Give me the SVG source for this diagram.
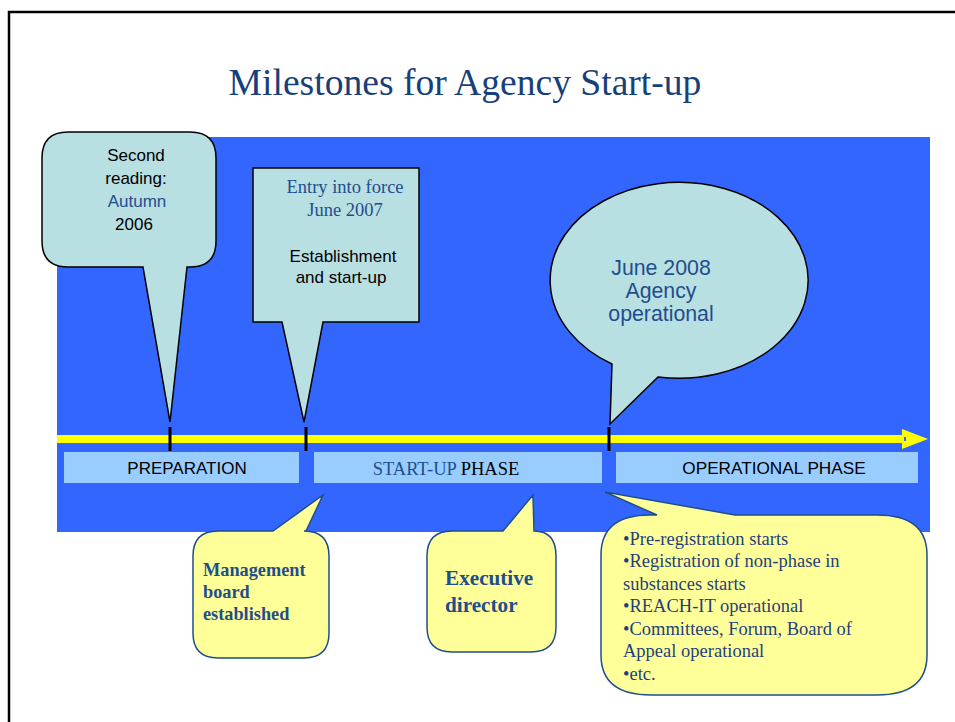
<svg xmlns="http://www.w3.org/2000/svg" width="955" height="722" viewBox="0 0 955 722">
<style>
.sans{font-family:"Liberation Sans",Arial,sans-serif}
.serif{font-family:"Liberation Serif","Times New Roman",serif}
.cyan{fill:#B8DFE2;stroke:#000;stroke-width:1.5;stroke-linejoin:miter}
.yel{fill:#FFFF99;stroke:#1F4E8C;stroke-width:1.5}
.phase{fill:#99CCFF}
.tick{stroke:#000;stroke-width:3}
</style>
<rect x="0" y="0" width="955" height="722" fill="#fff"/>
<path d="M9 722 V12 H955" fill="none" stroke="#000" stroke-width="2.5"/>
<text x="465" y="95" text-anchor="middle" class="serif" font-size="37.6" fill="#17407A">Milestones for Agency Start-up</text>
<rect id="background" x="57" y="137" width="873" height="395" fill="#3366FF"/>
<g id="connectors">
<rect x="57" y="435" width="847" height="8" fill="#FFFF00"/>
<polygon points="902,429 928,439 902,449" fill="#FFFF00"/>
<rect x="904" y="437" width="2" height="4" fill="#3366FF"/>
<line class="tick" x1="170" y1="427" x2="170" y2="451"/>
<line class="tick" x1="306" y1="427" x2="306" y2="451"/>
<line class="tick" x1="609" y1="427" x2="609" y2="451"/>
</g>
<g id="phase-preparation">
<rect class="phase" x="64" y="452" width="235" height="31"/>
<text x="187" y="474" text-anchor="middle" class="sans" font-size="17" fill="#000">PREPARATION</text>
</g>
<g id="phase-startup">
<rect class="phase" x="314" y="452" width="288" height="31"/>
<text x="446" y="475" text-anchor="middle" class="serif" font-size="18.5"><tspan fill="#1F4E8C">START-UP</tspan><tspan fill="#000"> PHASE</tspan></text>
</g>
<g id="phase-operational">
<rect class="phase" x="616" y="452" width="302" height="31"/>
<text x="774" y="474" text-anchor="middle" class="sans" font-size="17.2" fill="#000">OPERATIONAL PHASE</text>
</g>
<g id="second-reading">
<path class="cyan" d="M68 132 H190 Q216 132 216 158 V241 Q216 267 190 267 H187 L170 422 L143 267 H68 Q42 267 42 241 V158 Q42 132 68 132 Z"/>
<text text-anchor="middle" class="sans" font-size="17"><tspan x="136" y="161" fill="#000">Second</tspan><tspan x="136" y="184" fill="#000">reading:</tspan><tspan x="137" y="207" fill="#1F4E8C">Autumn</tspan><tspan x="134" y="230" fill="#000">2006</tspan></text>
</g>
<g id="entry-into-force">
<path class="cyan" d="M253 168 H419 V322 H323 L304 422 L282 322 H253 Z"/>
<text text-anchor="middle" class="serif" font-size="18.5" fill="#1F4E8C"><tspan x="345" y="193">Entry into force</tspan><tspan x="345" y="216">June 2007</tspan></text>
<text text-anchor="middle" class="sans" font-size="17" fill="#000"><tspan x="343" y="262">Establishment</tspan><tspan x="341" y="283">and start-up</tspan></text>
</g>
<g id="agency-operational">
<path class="cyan" d="M612 364 A129 98 0 1 1 658 377 L610 424 Z"/>
<text text-anchor="middle" class="sans" font-size="21.3" fill="#1F4E8C"><tspan x="661" y="275">June 2008</tspan><tspan x="661" y="298">Agency</tspan><tspan x="661" y="321">operational</tspan></text>
</g>
<g id="management-board">
<path class="yel" d="M218 531 H273 L323 495 L306 531 H304 Q329 531 329 556 V633 Q329 658 304 658 H218 Q193 658 193 633 V556 Q193 531 218 531 Z"/>
<text class="serif" font-size="18.3" font-weight="bold" fill="#1F4E8C"><tspan x="203" y="576">Management</tspan><tspan x="203" y="598">board</tspan><tspan x="203" y="620">established</tspan></text>
</g>
<g id="executive-director">
<path class="yel" d="M452 531 H503 L533 495 L534 531 Q556 531 556 556 V627 Q556 652 531 652 H452 Q427 652 427 627 V556 Q427 531 452 531 Z"/>
<text class="serif" font-size="21.2" font-weight="bold" fill="#1F4E8C"><tspan x="445" y="585">Executive</tspan><tspan x="445" y="612">director</tspan></text>
</g>
<g id="operational-tasks">
<path class="yel" d="M650 515 H657 L605 492 L735 515 H877 Q927 515 927 555 V655 Q927 695 877 695 H651 Q601 695 601 655 V555 Q601 515 650 515 Z"/>
<text class="serif" font-size="18.5" fill="#1F3F7A"><tspan x="623" y="545">•Pre-registration starts</tspan><tspan x="623" y="567">•Registration of non-phase in</tspan><tspan x="623" y="590">substances starts</tspan><tspan x="623" y="612">•REACH-IT operational</tspan><tspan x="623" y="635">•Committees, Forum, Board of</tspan><tspan x="623" y="657">Appeal operational</tspan><tspan x="623" y="680">•etc.</tspan></text>
</g>
</svg>
